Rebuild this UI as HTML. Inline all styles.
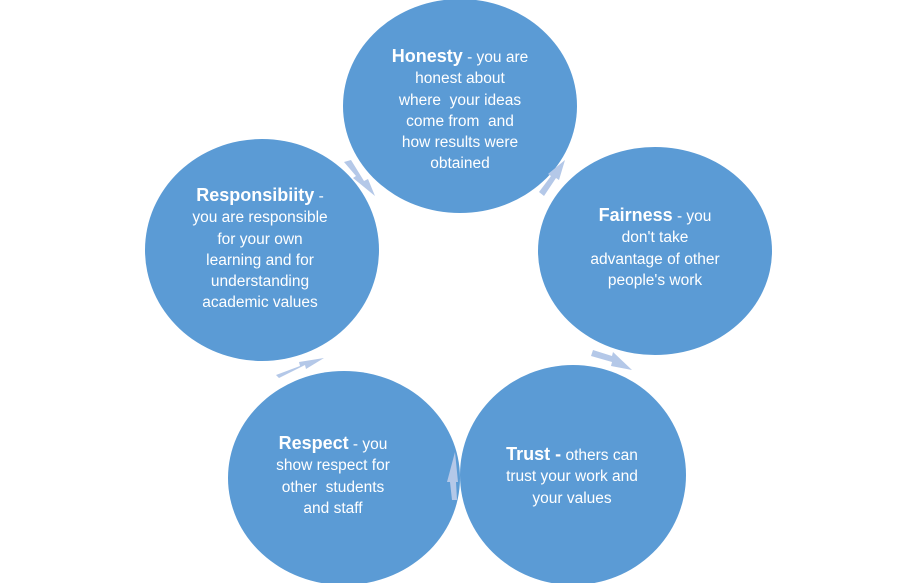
<!DOCTYPE html>
<html><head><meta charset="utf-8"><style>
html,body{margin:0;padding:0;background:#fff;}
body{width:899px;height:583px;overflow:hidden;position:relative;font-family:"Liberation Sans",sans-serif;}
.t{position:absolute;color:#fff;text-align:center;font-size:15.5px;line-height:21.3px;}
.t b{font-size:18px;}
</style></head><body>
<svg width="899" height="583" style="position:absolute;left:0;top:0">
<g fill="#5b9bd5">
<ellipse cx="460" cy="106" rx="117" ry="107"/>
<ellipse cx="655" cy="251" rx="117" ry="104"/>
<ellipse cx="262" cy="250" rx="117" ry="111"/>
<ellipse cx="344" cy="478" rx="116" ry="107"/>
<ellipse cx="573" cy="475" rx="113" ry="110"/>
</g>
<g fill="#b4c8e8">
<polygon points="539,192 551,176 548,174 565,160 559,180 556,178 544,196"/>
<polygon points="593,350 612,356 613,352 632,370 611,366 612,362 591,356"/>
<polygon points="452,500 450,482 447,482 455,452 458,482 456,482 457,500"/>
<polygon points="276,375 300,366 299,362 324,358 306,369 305,365 279,378"/>
<polygon points="344,162 356,176 353,178 375,196 368,179 364,181 351,160"/>
</g>
</svg>
<div class="t" style="left:360px;top:46px;width:200px"><b>Honesty</b> - you are<br>honest about<br>where&nbsp; your ideas<br>come from&nbsp; and<br>how results&nbsp;were<br>obtained</div>
<div class="t" style="left:555px;top:205px;width:200px"><b>Fairness</b> - you<br>don't take<br>advantage of other<br>people's work</div>
<div class="t" style="left:160px;top:185px;width:200px"><b>Responsibiity</b> -<br>you are responsible<br>for your own<br>learning and for<br>understanding<br>academic values</div>
<div class="t" style="left:233px;top:433px;width:200px"><b>Respect</b> - you<br>show respect for<br>other&nbsp; students<br>and staff</div>
<div class="t" style="left:472px;top:444px;width:200px"><b>Trust -</b> others can<br>trust your work and<br>your values</div>
</body></html>
